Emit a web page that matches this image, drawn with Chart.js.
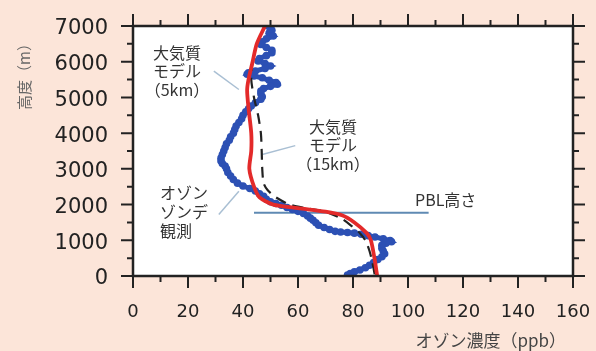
<!DOCTYPE html>
<html>
<head>
<meta charset="utf-8">
<script src="https://cdn.jsdelivr.net/npm/chart.js@4.4.1/dist/chart.umd.min.js"></script>
<style>
  html, body { margin: 0; padding: 0; background: #fce5d9; }
  #wrap { width: 596px; height: 351px; }
</style>
</head>
<body>
<div id="wrap"><canvas id="chart"></canvas></div>
<script>
// ozonesonde observation (ppb, m)
const sondeOzone = [49, 50, 50.5, 49.5, 51, 48.5, 47, 46.5, 48.5, 50.5, 50.5, 48.5, 46, 45.5, 48, 50, 48, 44.5, 42, 41.5,
  44, 47, 49.5, 52, 52.5, 50, 47.5, 46.5, 46.5, 47, 46.5, 44.5, 43, 42, 41, 40, 39.5, 38.5, 37.5, 37,
  36.5, 35.5, 35, 34, 33.5, 33, 32.5, 32, 32, 32.5, 33.5, 34, 34.5, 35.5, 36.5, 38, 40, 42.5, 44.5, 46,
  47.5, 48.5, 50, 52, 54, 56, 58, 60, 62, 63.5, 64.5, 65.5, 66.5, 67.5, 69.5, 71.5, 73.5, 75.5, 78, 80.5,
  83, 85.5, 88, 91, 93.5, 94, 92, 90.5, 90.5, 91, 91.5, 90.5, 89, 87.5, 86, 84.5, 82.5, 80.5, 79, 78];
const sondeHeight = [7000, 6950, 6880, 6800, 6720, 6640, 6560, 6480, 6400, 6320, 6250, 6170, 6090, 6020, 5950, 5880, 5810, 5740, 5690, 5650,
  5600, 5550, 5480, 5420, 5370, 5310, 5250, 5180, 5100, 5020, 4950, 4850, 4760, 4680, 4600, 4500, 4400, 4300, 4200, 4100,
  4000, 3900, 3800, 3700, 3600, 3500, 3400, 3300, 3220, 3150, 3080, 3000, 2900, 2800, 2700, 2600, 2520, 2450, 2380, 2300,
  2230, 2150, 2080, 2030, 1980, 1920, 1860, 1810, 1750, 1680, 1620, 1560, 1490, 1420, 1360, 1300, 1250, 1230, 1220, 1200,
  1170, 1130, 1090, 1040, 990, 960, 920, 860, 780, 700, 620, 540, 460, 380, 300, 230, 170, 120, 70, 30];

// air quality model, 5 km grid
const model5kmOzone = [48, 45, 43.5, 42, 41.5, 42, 43, 43, 42.3, 44, 46, 51, 60, 70, 76, 80.5, 85, 86.5, 87.8, 88.8];
const model5kmHeight = [7000, 6500, 6000, 5500, 5200, 4700, 4000, 3500, 3000, 2500, 2200, 2000, 1900, 1800, 1700, 1500, 1200, 1000, 500, 0];

// air quality model, 15 km grid
const model15kmOzone = [48, 45, 43.5, 43, 44, 45.5, 46.5, 46.8, 47, 47.5, 49, 52, 57, 63, 70, 76, 79.5, 82.5, 84.5, 86, 87, 88];
const model15kmHeight = [7000, 6500, 6000, 5500, 5000, 4500, 4000, 3500, 3000, 2600, 2400, 2200, 2000, 1900, 1800, 1600, 1400, 1200, 1000, 700, 400, 0];

// PBL height line
const pblOzone = [44, 107.5];
const pblHeight = [1770, 1770];

// leader lines for the labels
const leader5kmOzone = [29.4, 38.5];
const leader5kmHeight = [5734, 5222];
const leader15kmOzone = [47, 59];
const leader15kmHeight = [3400, 3650];
const leaderSondeOzone = [31.2, 38.5];
const leaderSondeHeight = [1722, 2374];

const xTicks = [0, 20, 40, 60, 80, 100, 120, 140, 160];
const yTicks = [0, 1000, 2000, 3000, 4000, 5000, 6000, 7000];

const pts = (xs, ys) => xs.map((x, i) => ({ x, y: ys[i] }));

const JP = '"Noto Sans CJK JP", "Noto Sans", sans-serif';

const leaderStyle = {
  showLine: true, pointRadius: 0, borderColor: '#a9bfd3', borderWidth: 1.5, order: 5
};

// stop the scales from pushing the plot area around
const noPad = (s) => {
  s.paddingTop = 0; s.paddingBottom = 0; s.paddingLeft = 0; s.paddingRight = 0;
};

// white plot area + frame with outward major/minor ticks on all four sides
const framePlugin = {
  id: 'frame',
  beforeDraw(chart) {
    const { ctx, chartArea: a } = chart;
    ctx.save();
    ctx.fillStyle = '#ffffff';
    ctx.fillRect(a.left, a.top, a.right - a.left, a.bottom - a.top);
    ctx.restore();
  },
  afterDraw(chart) {
    const { ctx, chartArea: a, scales } = chart;
    const xs = scales.x, ys = scales.y;
    ctx.save();
    ctx.strokeStyle = '#222';
    ctx.lineWidth = 2;
    for (let v = 0; v <= 160; v += 10) {
      const px = xs.getPixelForValue(v);
      const len = v % 20 === 0 ? 12 : 6;
      ctx.beginPath();
      ctx.moveTo(px, a.bottom); ctx.lineTo(px, a.bottom + len);
      ctx.moveTo(px, a.top); ctx.lineTo(px, a.top - len);
      ctx.stroke();
    }
    for (let v = 0; v <= 7000; v += 500) {
      const py = ys.getPixelForValue(v);
      const len = v % 1000 === 0 ? 12 : 6;
      ctx.beginPath();
      ctx.moveTo(a.left, py); ctx.lineTo(a.left - len, py);
      ctx.moveTo(a.right, py); ctx.lineTo(a.right + len, py);
      ctx.stroke();
    }
    ctx.lineWidth = 2.5;
    ctx.strokeRect(a.left, a.top, a.right - a.left, a.bottom - a.top);

    // annotation text
    ctx.fillStyle = '#333';
    ctx.font = '16px ' + JP;
    ctx.textBaseline = 'middle';
    ctx.textAlign = 'center';
    ctx.fillText('大気質', 177, 53);
    ctx.fillText('モデル', 177, 71);
    ctx.fillText('（5km）', 177, 90);
    ctx.fillText('大気質', 333, 127);
    ctx.fillText('モデル', 333, 145);
    ctx.fillText('（15km）', 333, 164);
    ctx.textAlign = 'left';
    ctx.fillText('オゾン', 160, 193);
    ctx.fillText('ゾンデ', 160, 212);
    ctx.fillText('観測', 160, 231);
    ctx.fillText('PBL高さ', 415, 200);

    // axis titles
    ctx.fillStyle = '#444';
    ctx.font = '17px ' + JP;
    ctx.textAlign = 'right';
    ctx.fillText('オゾン濃度（ppb）', 566, 341);
    ctx.save();
    ctx.translate(24, 73);
    ctx.rotate(-Math.PI / 2);
    ctx.textAlign = 'center';
    ctx.font = '15px ' + JP;
    ctx.fillStyle = '#666';
    ctx.fillText('高度（m）', 0, 0);
    ctx.restore();
    ctx.restore();
  }
};

new Chart(document.getElementById('chart'), {
  type: 'scatter',
  data: {
    datasets: [
      {
        label: '大気質モデル（5km）',
        data: pts(model5kmOzone, model5kmHeight),
        showLine: true, pointRadius: 0, tension: 0.25,
        borderColor: '#e32a2a', borderWidth: 3.8, order: 1
      },
      {
        label: '大気質モデル（15km）',
        data: pts(model15kmOzone, model15kmHeight),
        showLine: true, pointRadius: 0, tension: 0.25,
        borderColor: '#222', borderWidth: 2.2, borderDash: [11, 7], order: 2
      },
      {
        label: 'オゾンゾンデ観測',
        data: pts(sondeOzone, sondeHeight),
        showLine: true, borderColor: '#2c50b4', borderWidth: 5,
        pointRadius: 3.8, pointBorderWidth: 0,
        pointBackgroundColor: '#2c50b4', order: 3
      },
      {
        label: 'PBL高さ',
        data: pts(pblOzone, pblHeight),
        showLine: true, pointRadius: 0, borderColor: '#5f8ab3', borderWidth: 2, order: 4
      },
      { label: 'leader5km', data: pts(leader5kmOzone, leader5kmHeight), ...leaderStyle },
      { label: 'leader15km', data: pts(leader15kmOzone, leader15kmHeight), ...leaderStyle },
      { label: 'leaderSonde', data: pts(leaderSondeOzone, leaderSondeHeight), ...leaderStyle }
    ]
  },
  options: {
    responsive: true,
    maintainAspectRatio: false,
    animation: false,
    layout: { padding: { top: 26, right: 23, left: 0, bottom: 0 } },
    plugins: { legend: { display: false }, tooltip: { enabled: false } },
    scales: {
      x: {
        type: 'linear', min: 0, max: 160,
        afterBuildTicks: (s) => { s.ticks = xTicks.map(v => ({ value: v })); },
        afterFit: (s) => { s.height = 75; noPad(s); },
        grid: { display: false, drawTicks: false },
        border: { display: false },
        ticks: { color: '#222', font: { family: 'DejaVu Sans', size: 18 }, padding: 26, maxRotation: 0, autoSkip: false,
          callback: (v) => String(v) }
      },
      y: {
        type: 'linear', min: 0, max: 7000,
        afterBuildTicks: (s) => { s.ticks = yTicks.map(v => ({ value: v })); },
        afterFit: (s) => { s.width = 133; noPad(s); },
        grid: { display: false, drawTicks: false },
        border: { display: false },
        ticks: { color: '#222', font: { family: 'DejaVu Sans', size: 21 }, padding: 25, labelOffset: 3, autoSkip: false,
          callback: (v) => String(v) }
      }
    }
  },
  plugins: [framePlugin]
});
</script>
</body>
</html>
